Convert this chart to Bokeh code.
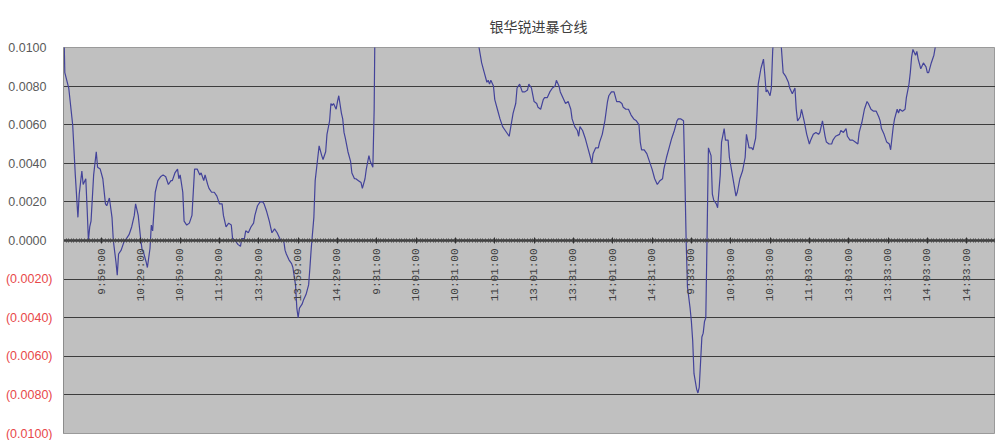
import math
from bokeh.plotting import figure
from bokeh.models import ColumnDataSource, FixedTicker, Range1d, LinearAxis
from bokeh.embed import file_html
from bokeh.resources import INLINE

# ---------------- data ----------------
title_text = "银华锐进暴仓线"

# minute index of each sample (three trading days joined) and the spread value
minute_idx = [
    0, 1, 4, 7, 9, 11, 12, 14, 15, 17, 18, 19, 20, 21, 23, 25, 26, 28, 30, 32,
    33, 35, 37, 38, 40, 41, 42, 44, 46, 48, 50, 52, 54, 55, 57, 59, 60, 61, 63, 64,
    66, 67, 68, 70, 72, 74, 76, 78, 80, 82, 83, 85, 87, 88, 89, 91, 92, 94, 96, 98,
    99, 100, 102, 104, 105, 107, 108, 110, 111, 113, 115, 117, 119, 121, 122, 124, 126, 128, 129, 131,
    133, 135, 136, 138, 139, 141, 143, 145, 146, 148, 150, 152, 153, 155, 157, 159, 160, 161, 163, 165,
    166, 168, 169, 170, 172, 174, 175, 177, 178, 179, 180, 182, 183, 185, 187, 188, 189, 191, 192, 194,
    195, 197, 198, 200, 201, 203, 204, 205, 206, 208, 209, 210, 212, 213, 214, 215, 217, 219, 220, 222,
    223, 225, 227, 228, 230, 231, 233, 234, 236, 237, 238, 262, 290, 316, 317, 319, 321, 323, 324, 325,
    326, 328, 329, 331, 333, 335, 337, 340, 341, 343, 345, 346, 348, 350, 352, 354, 355, 357, 359, 361,
    362, 364, 366, 367, 369, 371, 373, 375, 376, 378, 379, 381, 383, 385, 387, 388, 390, 392, 393, 394,
    396, 398, 400, 402, 403, 404, 406, 408, 409, 411, 413, 415, 416, 418, 420, 422, 424, 426, 427, 429,
    431, 433, 435, 437, 439, 440, 441, 443, 445, 447, 449, 451, 453, 455, 457, 458, 460, 462, 464, 466,
    468, 469, 471, 473, 474, 475, 476, 478, 479, 480, 481, 483, 484, 485, 487, 488, 489, 490, 492, 494,
    495, 496, 498, 499, 501, 502, 504, 505, 507, 508, 511, 513, 514, 516, 518, 520, 521, 523, 525, 526,
    528, 529, 530, 532, 534, 535, 536, 537, 539, 540, 541, 542, 547, 549, 551, 553, 554, 556, 558, 559,
    560, 562, 563, 565, 567, 569, 570, 572, 574, 576, 577, 579, 581, 582, 584, 586, 587, 589, 592, 593,
    595, 597, 598, 600, 602, 604, 606, 607, 609, 611, 613, 614, 616, 618, 620, 622, 623, 624, 626, 628,
    630, 631, 632, 633, 634, 636, 637, 638, 640, 642, 643, 645, 646, 647, 648, 650, 651, 652, 654, 656,
    658, 659, 660, 662, 664, 665, 666, 685, 709,
]
spread = [
    0.0120, 0.0087, 0.0079, 0.0060, 0.0034, 0.0012, 0.0024, 0.0036, 0.0029, 0.0032, 0.0017, 0.0000, 0.0007, 0.0010, 0.0034, 0.0046, 0.0038, 0.0037, 0.0032, 0.0019,
    0.0018, 0.0022, 0.0012, 0.0000, -0.0011, -0.0018, -0.0007, -0.0005, -0.0001, 0.0001, 0.0003, 0.0007, 0.0013, 0.0019, 0.0013, 0.0000, -0.0005, -0.0006, -0.0011, -0.0014,
    -0.0004, 0.0008, 0.0005, 0.0025, 0.0031, 0.0033, 0.0034, 0.0033, 0.0029, 0.0031, 0.0031, 0.0035, 0.0037, 0.0032, 0.0034, 0.0025, 0.0010, 0.0008, 0.0009, 0.0013,
    0.0025, 0.0037, 0.0037, 0.0034, 0.0035, 0.0031, 0.0034, 0.0029, 0.0027, 0.0025, 0.0025, 0.0023, 0.0019, 0.0019, 0.0013, 0.0007, 0.0009, 0.0008, 0.0001, 0.0000,
    -0.0002, -0.0003, 0.0001, 0.0001, 0.0005, 0.0004, 0.0007, 0.0009, 0.0013, 0.0018, 0.0020, 0.0020, 0.0019, 0.0015, 0.0010, 0.0004, 0.0005, 0.0006, 0.0004, 0.0001,
    0.0000, 0.0000, -0.0005, -0.0007, -0.0010, -0.0012, -0.0014, -0.0023, -0.0035, -0.0040, -0.0035, -0.0033, -0.0031, -0.0028, -0.0023, -0.0014, -0.0004, 0.0012, 0.0031, 0.0043,
    0.0049, 0.0044, 0.0042, 0.0046, 0.0055, 0.0062, 0.0071, 0.0070, 0.0071, 0.0068, 0.0072, 0.0075, 0.0066, 0.0063, 0.0056, 0.0053, 0.0046, 0.0041, 0.0035, 0.0032,
    0.0032, 0.0031, 0.0030, 0.0027, 0.0032, 0.0037, 0.0044, 0.0041, 0.0038, 0.0068, 0.0140, 0.0165, 0.0172, 0.0118, 0.0100, 0.0092, 0.0087, 0.0082, 0.0083, 0.0081,
    0.0083, 0.0080, 0.0073, 0.0068, 0.0063, 0.0059, 0.0057, 0.0054, 0.0058, 0.0066, 0.0071, 0.0079, 0.0081, 0.0077, 0.0077, 0.0078, 0.0081, 0.0079, 0.0072, 0.0071,
    0.0069, 0.0068, 0.0073, 0.0074, 0.0074, 0.0077, 0.0079, 0.0080, 0.0083, 0.0080, 0.0077, 0.0074, 0.0071, 0.0072, 0.0068, 0.0063, 0.0059, 0.0057, 0.0054, 0.0059,
    0.0057, 0.0053, 0.0048, 0.0043, 0.0040, 0.0045, 0.0048, 0.0048, 0.0051, 0.0055, 0.0062, 0.0072, 0.0075, 0.0077, 0.0077, 0.0072, 0.0072, 0.0071, 0.0069, 0.0068,
    0.0068, 0.0065, 0.0063, 0.0062, 0.0060, 0.0051, 0.0047, 0.0047, 0.0045, 0.0041, 0.0037, 0.0032, 0.0029, 0.0031, 0.0032, 0.0037, 0.0043, 0.0048, 0.0053, 0.0057,
    0.0062, 0.0063, 0.0063, 0.0062, 0.0034, 0.0000, -0.0024, -0.0035, -0.0042, -0.0052, -0.0069, -0.0077, -0.0079, -0.0076, -0.0050, -0.0048, -0.0042, -0.0040, 0.0048, 0.0044,
    0.0024, 0.0021, 0.0019, 0.0017, 0.0034, 0.0051, 0.0058, 0.0052, 0.0052, 0.0043, 0.0031, 0.0023, 0.0025, 0.0032, 0.0036, 0.0043, 0.0055, 0.0048, 0.0048, 0.0047,
    0.0053, 0.0065, 0.0081, 0.0089, 0.0094, 0.0086, 0.0077, 0.0078, 0.0075, 0.0079, 0.0098, 0.0108, 0.0106, 0.0087, 0.0085, 0.0082, 0.0079, 0.0076, 0.0079, 0.0068,
    0.0062, 0.0064, 0.0068, 0.0062, 0.0055, 0.0050, 0.0052, 0.0055, 0.0056, 0.0055, 0.0056, 0.0062, 0.0054, 0.0051, 0.0050, 0.0050, 0.0052, 0.0054, 0.0055, 0.0057,
    0.0056, 0.0058, 0.0054, 0.0052, 0.0052, 0.0051, 0.0050, 0.0056, 0.0061, 0.0068, 0.0072, 0.0071, 0.0068, 0.0067, 0.0067, 0.0064, 0.0062, 0.0058, 0.0055, 0.0051,
    0.0050, 0.0047, 0.0053, 0.0059, 0.0063, 0.0068, 0.0066, 0.0068, 0.0067, 0.0068, 0.0074, 0.0081, 0.0087, 0.0095, 0.0099, 0.0096, 0.0098, 0.0094, 0.0089, 0.0092,
    0.0090, 0.0087, 0.0087, 0.0092, 0.0096, 0.0100, 0.0106, 0.0118, 0.0125,
]

time_labels = [
    "9:59:00", "10:29:00", "10:59:00", "11:29:00", "13:29:00", "13:59:00", "14:29:00",
    "9:31:00", "10:01:00", "10:31:00", "11:01:00", "13:01:00", "13:31:00", "14:01:00", "14:31:00",
    "9:33:00", "10:03:00", "10:33:00", "11:03:00", "13:03:00", "13:33:00", "14:03:00", "14:33:00",
]
first_label_idx = 29
label_step = 30
n_minutes = 711

y_ticks = [0.0100, 0.0080, 0.0060, 0.0040, 0.0020, 0.0000,
           -0.0020, -0.0040, -0.0060, -0.0080, -0.0100]
y_min, y_max = -0.0100, 0.0100

# ---------------- figure ----------------
p = figure(width=995, height=440, output_backend="svg", toolbar_location=None,
           x_range=Range1d(0, n_minutes), y_range=Range1d(y_min, y_max),
           min_border_left=63, min_border_right=0, min_border_top=47, min_border_bottom=7)

p.background_fill_color = "#c0c0c0"
p.border_fill_color = "white"
p.outline_line_color = "#9a9a9a"
p.outline_line_width = 1

p.title.text = title_text
p.title.align = "left"
p.title.offset = 426
p.title.text_font = "Noto Sans CJK SC"
p.title.text_font_size = "14px"
p.title.text_font_style = "normal"
p.title.text_color = "#404040"
p.title.standoff = 24

p.xgrid.visible = False
p.ygrid.ticker = FixedTicker(ticks=y_ticks)
p.ygrid.grid_line_color = "#3c3c3c"
p.ygrid.grid_line_width = 1.1
p.yaxis.visible = False

# y labels: two stacked left axes, grey for >= 0 and red (accounting style) for < 0
def fmt(v):
    s = f"{abs(v):.4f}"
    return f"({s})" if v < 0 else s

pos_vals = [v for v in y_ticks if v >= 0]
neg_vals = [v for v in y_ticks if v < 0]

common = dict(major_label_text_font="Liberation Sans", major_label_text_font_size="12.5px",
              major_tick_in=0, major_tick_out=0, minor_tick_in=0, minor_tick_out=0)
ax_pos = LinearAxis(ticker=FixedTicker(ticks=pos_vals, minor_ticks=[]),
                    major_label_overrides={v: fmt(v) for v in pos_vals},
                    major_label_text_color="#5a5a5a", major_label_standoff=17,
                    axis_line_color="#8c8c8c", **common)
ax_neg = LinearAxis(ticker=FixedTicker(ticks=neg_vals, minor_ticks=[]),
                    major_label_overrides={v: fmt(v) for v in neg_vals},
                    major_label_text_color="#e8484a", major_label_standoff=-47,
                    axis_line_color=None, **common)
p.add_layout(ax_pos, "left")
p.add_layout(ax_neg, "left")

# x axis at y = 0
tick_pos = [first_label_idx + label_step * k for k in range(len(time_labels))]
xa = p.xaxis[0]
xa.fixed_location = 0
xa.ticker = FixedTicker(ticks=tick_pos, minor_ticks=list(range(0, n_minutes + 1, 2)))
xa.major_label_overrides = {t: lab for t, lab in zip(tick_pos, time_labels)}
xa.major_label_orientation = math.pi / 2
xa.major_label_text_font = "Liberation Mono"
xa.major_label_text_font_size = "11px"
xa.major_label_text_color = "#404040"
xa.major_label_standoff = 5
xa.axis_line_color = "#3c3c3c"
xa.axis_line_width = 2.5
xa.major_tick_in = 3
xa.major_tick_out = 3
xa.major_tick_line_color = "#303030"
xa.minor_tick_in = 2
xa.minor_tick_out = 2
xa.minor_tick_line_color = "#4a4a4a"

src = ColumnDataSource(dict(i=minute_idx, v=spread))
p.line(x="i", y="v", source=src, line_color="#43439a", line_width=1.2)

open("out.html", "w").write(file_html(p, INLINE))
